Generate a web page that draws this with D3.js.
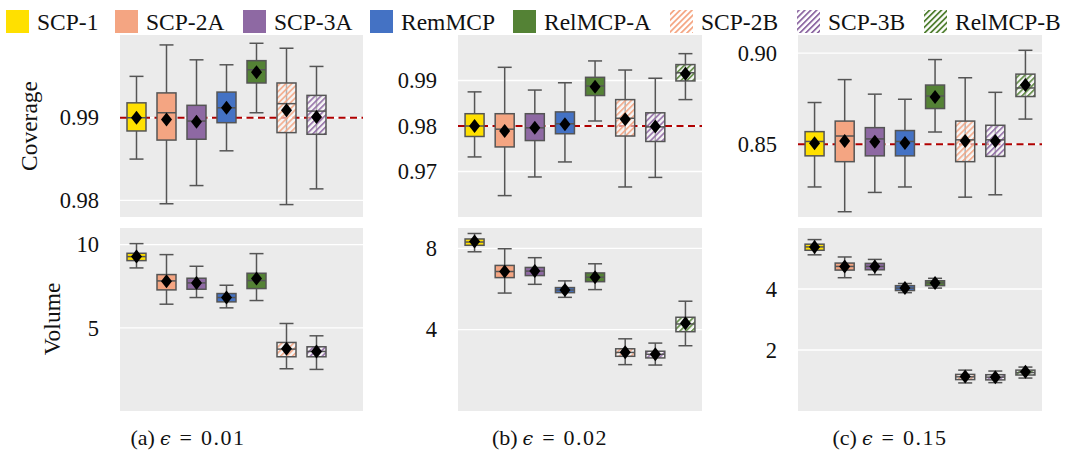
<!DOCTYPE html>
<html>
<head>
<meta charset="utf-8">
<script src="https://cdn.jsdelivr.net/npm/d3@7"></script>
<style>
  body { margin: 0; background: #fff; }
  text { font-family: "Liberation Serif", "Times New Roman", "DejaVu Serif", serif; fill: #111; }
</style>
</head>
<body>
<svg id="chart" width="1067" height="454"></svg>
<script>
// Methods, in plotting order
const methods = ["SCP-1", "SCP-2A", "SCP-3A", "RemMCP", "RelMCP-A", "SCP-2B", "SCP-3B", "RelMCP-B"];
const methodColors = ["#FFE000", "#F4A582", "#8E69A3", "#4472C4", "#548235", "#F4A582", "#8E69A3", "#548235"];
const hatchedMethods = ["SCP-2B", "SCP-3B", "RelMCP-B"];

// Box summaries per method: [lower whisker, q1, median, q3, upper whisker, mean]
const coverageA = [
  [0.9850, 0.9884, 0.9900, 0.9918, 0.9950, 0.9900],
  [0.9796, 0.9873, 0.9906, 0.9930, 0.9988, 0.9898],
  [0.9818, 0.9874, 0.9896, 0.9915, 0.9970, 0.9895],
  [0.9860, 0.9894, 0.9912, 0.9931, 0.9964, 0.9912],
  [0.9906, 0.9942, 0.9958, 0.9969, 0.9990, 0.9955],
  [0.9795, 0.9882, 0.9917, 0.9942, 0.9984, 0.9909],
  [0.9814, 0.9880, 0.9908, 0.9927, 0.9962, 0.9901],
  null
];
const coverageB = [
  [0.9732, 0.9777, 0.9800, 0.9827, 0.9875, 0.9800],
  [0.9647, 0.9754, 0.9793, 0.9827, 0.9929, 0.9789],
  [0.9688, 0.9768, 0.9796, 0.9827, 0.9879, 0.9796],
  [0.9721, 0.9783, 0.9805, 0.9831, 0.9895, 0.9804],
  [0.9811, 0.9867, 0.9888, 0.9907, 0.9943, 0.9886],
  [0.9666, 0.9778, 0.9817, 0.9858, 0.9923, 0.9815],
  [0.9687, 0.9766, 0.9798, 0.9829, 0.9905, 0.9799],
  [0.9858, 0.9899, 0.9917, 0.9935, 0.9959, 0.9915]
];
const coverageC = [
  [0.8265, 0.8436, 0.8515, 0.8569, 0.8729, 0.8505],
  [0.8129, 0.8404, 0.8545, 0.8627, 0.8855, 0.8518],
  [0.8235, 0.8436, 0.8529, 0.8591, 0.8775, 0.8513],
  [0.8265, 0.8436, 0.8515, 0.8575, 0.8747, 0.8507],
  [0.8567, 0.8696, 0.8765, 0.8825, 0.8965, 0.8760],
  [0.8209, 0.8404, 0.8524, 0.8627, 0.8865, 0.8518],
  [0.8222, 0.8433, 0.8524, 0.8604, 0.8785, 0.8518],
  [0.8638, 0.8762, 0.8809, 0.8885, 0.9016, 0.8825]
];
const volumeA = [
  [8.60, 9.04, 9.28, 9.48, 10.06, 9.28],
  [6.42, 7.28, 7.82, 8.20, 9.40, 7.80],
  [6.82, 7.32, 7.70, 7.98, 8.70, 7.70],
  [6.20, 6.56, 6.82, 7.06, 7.56, 6.82],
  [6.64, 7.36, 7.84, 8.28, 9.46, 7.96],
  [2.54, 3.26, 3.72, 4.12, 5.26, 3.74],
  [2.50, 3.26, 3.58, 3.86, 4.52, 3.58],
  null
];
const volumeB = [
  [7.83, 8.15, 8.31, 8.46, 8.73, 8.33],
  [5.80, 6.56, 6.86, 7.16, 7.98, 6.86],
  [6.23, 6.66, 6.88, 7.06, 7.54, 6.88],
  [5.59, 5.82, 5.95, 6.07, 6.40, 5.95],
  [5.97, 6.36, 6.58, 6.79, 7.24, 6.58],
  [2.28, 2.69, 2.88, 3.06, 3.55, 2.89],
  [2.26, 2.61, 2.79, 2.94, 3.34, 2.79],
  [3.21, 3.90, 4.28, 4.61, 5.40, 4.31]
];
const volumeC = [
  [5.12, 5.27, 5.38, 5.47, 5.62, 5.38],
  [4.37, 4.62, 4.74, 4.85, 5.05, 4.74],
  [4.47, 4.63, 4.74, 4.84, 4.97, 4.74],
  [3.88, 3.95, 4.03, 4.11, 4.18, 4.03],
  [4.03, 4.11, 4.20, 4.27, 4.35, 4.20],
  [0.92, 1.03, 1.12, 1.20, 1.34, 1.13],
  [0.93, 1.02, 1.11, 1.19, 1.31, 1.11],
  [1.08, 1.18, 1.26, 1.34, 1.44, 1.29]
];

const targetCoverage = [0.99, 0.98, 0.85];
const coverageDomains = [[0.978, 1.0], [0.96, 1.0], [0.81, 0.91]];
const volumeDomains = [[0, 11], [0, 9], [0, 6]];
const coverageTicks = [[0.98, 0.99], [0.97, 0.98, 0.99], [0.85, 0.90]];
const volumeTicks = [[5, 10], [4, 8], [2, 4]];
const panelLetters = ["a", "b", "c"];
const epsilons = ["0.01", "0.02", "0.15"];

// ---- layout ----
const svg = d3.select("#chart");
const panelX = [[120, 363], [458, 702], [798, 1042]];
const captionX = [188, 550, 890];
const legendX = [6, 115, 243, 370, 513, 670, 797, 924];
const rowY = { coverage: [35, 217], volume: [228, 411] };
const boxW = 19, capW = 14;
const edge = "#555555";
const bg = "#EBEBEB";

// hatch patterns for the "B" variants
const defs = svg.append("defs");
methods.forEach((m, i) => {
  if (!hatchedMethods.includes(m)) return;
  [["box", 0.85], ["leg", 1]].forEach(([kind, op]) => {
    const p = defs.append("pattern")
      .attr("id", `hatch-${kind}-${i}`)
      .attr("patternUnits", "userSpaceOnUse")
      .attr("width", 4.2).attr("height", 4.2)
      .attr("patternTransform", "rotate(45)");
    p.append("rect").attr("x", 0).attr("y", 0).attr("width", 1.8).attr("height", 4.2)
      .attr("fill", methodColors[i]).attr("opacity", op);
  });
});

// ---- legend ----
const legend = svg.append("g");
methods.forEach((m, i) => {
  const lx = legendX[i];
  const hatched = hatchedMethods.includes(m);
  if (hatched) {
    legend.append("rect").attr("x", lx).attr("y", 10).attr("width", 23).attr("height", 23).attr("fill", "#fff");
  }
  legend.append("rect").attr("x", lx).attr("y", 10).attr("width", 23).attr("height", 23)
    .attr("fill", hatched ? `url(#hatch-leg-${i})` : methodColors[i]);
  legend.append("text").attr("x", lx + 31).attr("y", 30)
    .attr("font-size", 23.5).text(m);
});

// ---- panels ----
function drawPanel(pi, rowKey, data, domain, ticks, fmt, target) {
  const [x0, x1] = panelX[pi];
  const [yTop, yBot] = rowY[rowKey];
  const g = svg.append("g");
  const x = d3.scalePoint().domain(methods).range([x0, x1]).padding(0.55);
  const y = d3.scaleLinear().domain(domain).range([yBot, yTop]);

  g.append("rect").attr("x", x0).attr("y", yTop).attr("width", x1 - x0).attr("height", yBot - yTop).attr("fill", bg);

  // grid
  g.selectAll(".grid").data(ticks).join("line")
    .attr("x1", x0).attr("x2", x1)
    .attr("y1", d => y(d)).attr("y2", d => y(d))
    .attr("stroke", "#fff").attr("stroke-width", 1.3);

  // tick labels
  const axis = d3.axisLeft(y).tickValues(ticks).tickFormat(fmt).tickSize(0).tickPadding(21);
  const ag = g.append("g").attr("transform", `translate(${x0},0)`).call(axis);
  ag.select(".domain").remove();
  ag.selectAll("text").attr("font-size", 22.5).attr("fill", "#111")
    .style("font-family", '"Liberation Serif", "Times New Roman", serif');

  // target line
  if (target != null) {
    g.append("line").attr("x1", x0).attr("x2", x1)
      .attr("y1", y(target)).attr("y2", y(target))
      .attr("stroke", "#B00000").attr("stroke-width", 2).attr("stroke-dasharray", "7,4.5");
  }

  // boxes
  data.forEach((d, i) => {
    if (!d) return;
    const [lo, q1, med, q3, hi, mean] = d;
    const cx = x(methods[i]);
    const hatched = hatchedMethods.includes(methods[i]);
    const bx = g.append("g");
    bx.append("line").attr("x1", cx).attr("x2", cx).attr("y1", y(hi)).attr("y2", y(lo))
      .attr("stroke", edge).attr("stroke-width", 1.5);
    [lo, hi].forEach(v => bx.append("line")
      .attr("x1", cx - capW / 2).attr("x2", cx + capW / 2)
      .attr("y1", y(v)).attr("y2", y(v))
      .attr("stroke", edge).attr("stroke-width", 1.5));
    const rx = cx - boxW / 2, ry = y(q3), rh = y(q1) - y(q3);
    if (hatched) {
      bx.append("rect").attr("x", rx).attr("y", ry).attr("width", boxW).attr("height", rh)
        .attr("fill", "#fff").attr("fill-opacity", 0.55);
      bx.append("rect").attr("x", rx).attr("y", ry).attr("width", boxW).attr("height", rh)
        .attr("fill", `url(#hatch-box-${i})`);
    } else {
      bx.append("rect").attr("x", rx).attr("y", ry).attr("width", boxW).attr("height", rh)
        .attr("fill", methodColors[i]);
    }
    bx.append("rect").attr("x", rx).attr("y", ry).attr("width", boxW).attr("height", rh)
      .attr("fill", "none").attr("stroke", edge).attr("stroke-width", 1.5);
    bx.append("line").attr("x1", rx).attr("x2", rx + boxW).attr("y1", y(med)).attr("y2", y(med))
      .attr("stroke", edge).attr("stroke-width", 1.5);
    const my = y(mean);
    bx.append("path")
      .attr("d", `M${cx},${my - 7}L${cx + 5.5},${my}L${cx},${my + 7}L${cx - 5.5},${my}Z`)
      .attr("fill", "#000");
  });
}

const coverageSets = [coverageA, coverageB, coverageC];
const volumeSets = [volumeA, volumeB, volumeC];
const covFmt = d3.format(".2f");
const volFmt = d3.format("d");

for (let p = 0; p < 3; p++) {
  drawPanel(p, "coverage", coverageSets[p], coverageDomains[p], coverageTicks[p], covFmt, targetCoverage[p]);
  drawPanel(p, "volume", volumeSets[p], volumeDomains[p], volumeTicks[p], volFmt, null);

  const cap = svg.append("text").attr("x", captionX[p]).attr("y", 445)
    .attr("text-anchor", "middle").attr("font-size", 22);
  cap.append("tspan").text(`(${panelLetters[p]})`);
  cap.append("tspan").attr("dx", 5).attr("font-style", "italic")
    .style("font-family", '"DejaVu Serif", serif').attr("font-size", 19).text("ϵ");
  cap.append("tspan").attr("dx", 9).text("=");
  cap.append("tspan").attr("dx", 9).attr("letter-spacing", 1.5).text(epsilons[p]);
}

// axis titles
svg.append("text").attr("transform", `translate(37,126) rotate(-90)`)
  .attr("text-anchor", "middle").attr("font-size", 23.5).text("Coverage");
svg.append("text").attr("transform", `translate(60,319) rotate(-90)`)
  .attr("text-anchor", "middle").attr("font-size", 23.5).text("Volume");
</script>
</body>
</html>
